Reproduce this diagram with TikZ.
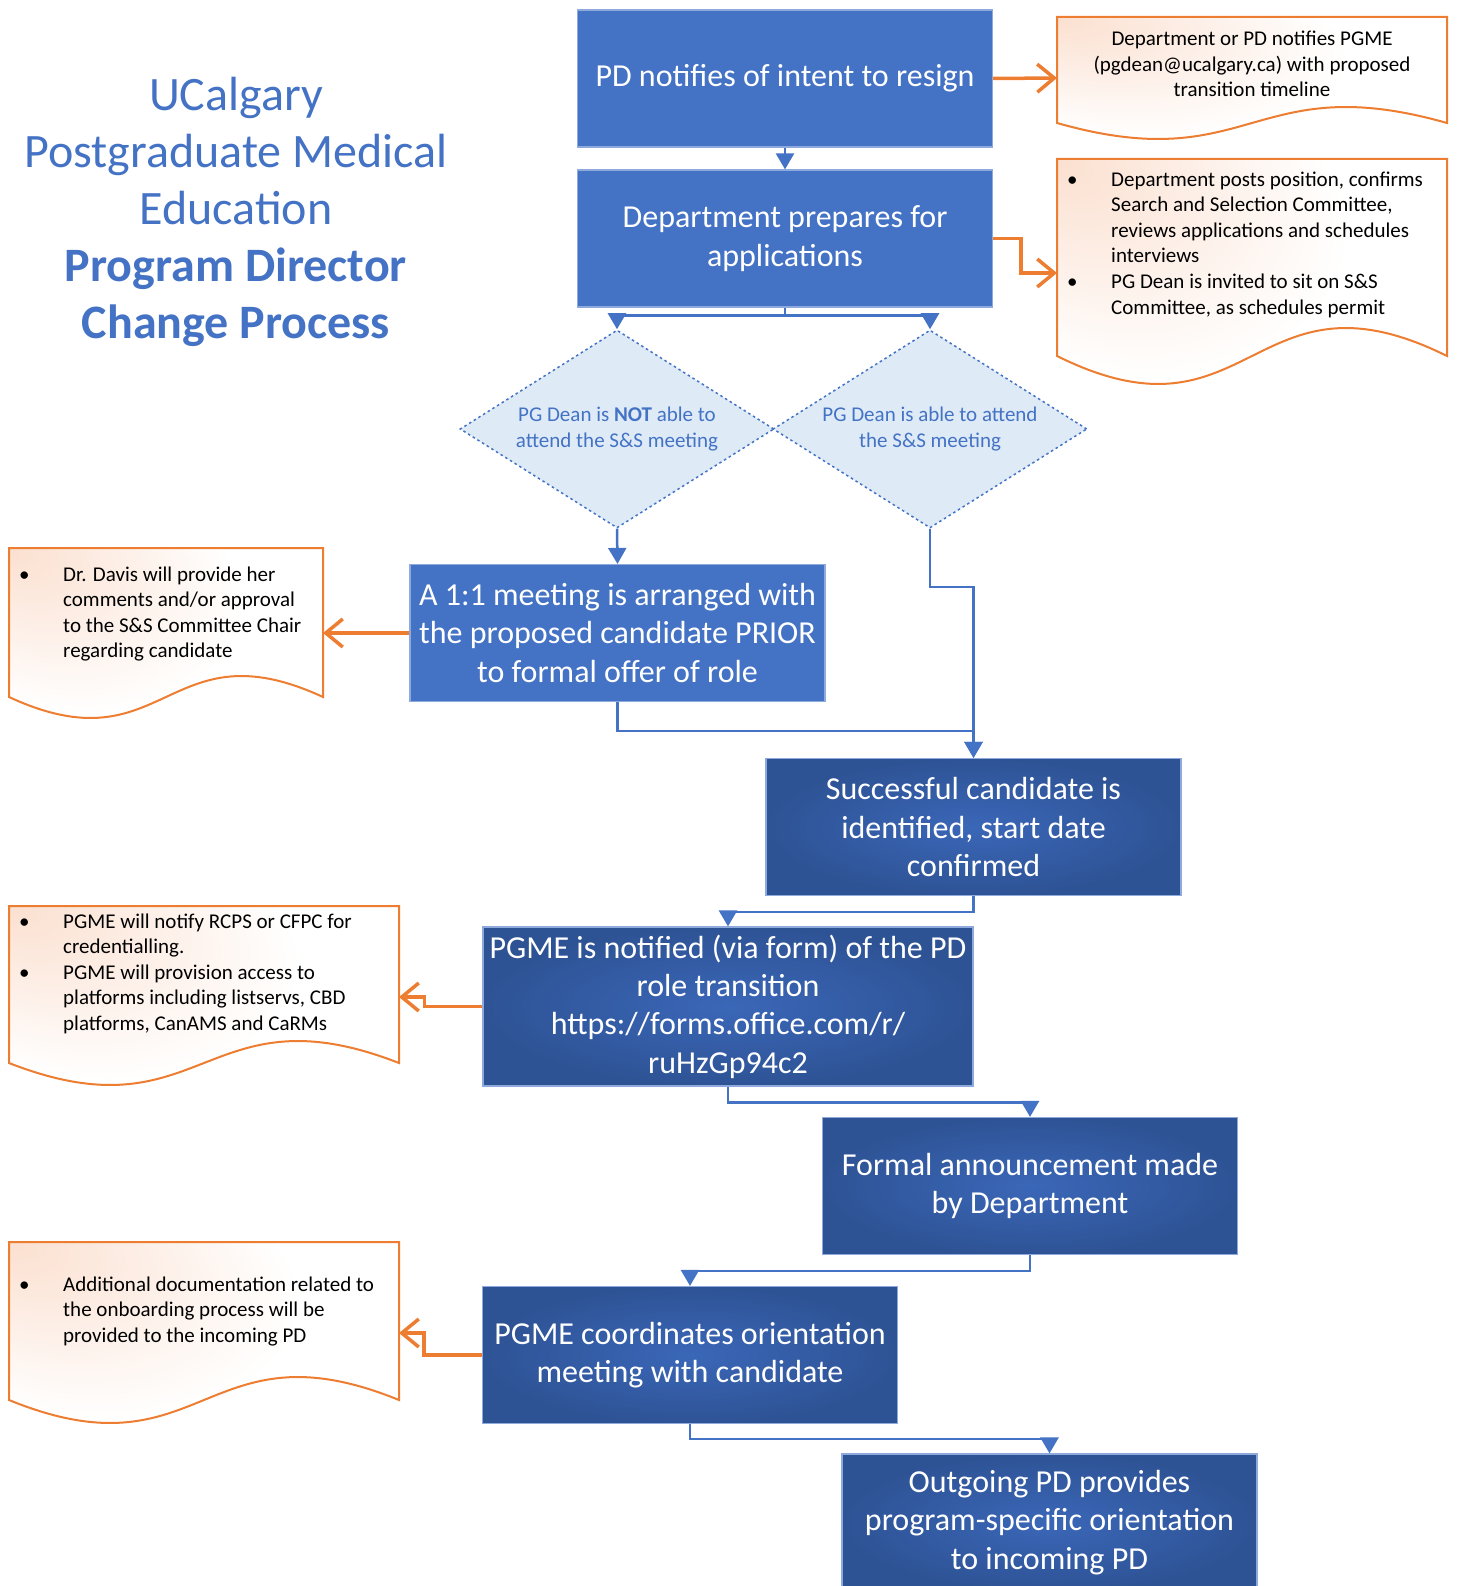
\documentclass[tikz,border=0pt]{standalone}
\usepackage{fontspec}
\setmainfont{Carlito}
\usetikzlibrary{arrows.meta,shapes.geometric}

\definecolor{flowblue}{HTML}{4472C4}
\definecolor{deepblue}{HTML}{2E5395}
\definecolor{midblue}{HTML}{3B67B8}
\definecolor{rimblue}{HTML}{8EA9DB}
\definecolor{paleblue}{HTML}{DEEBF7}
\definecolor{noteorange}{HTML}{ED7D31}
\definecolor{notepink}{HTML}{FBE0D0}

% pink corner glow for the callouts
\pgfdeclareradialshading{notecorner}{\pgfpoint{-25bp}{25bp}}{color(0bp)=(notepink); color(25bp)=(white); color(50bp)=(white)}

% callout with a wavy lower edge: x1, top, x2, side bottom, wave height
\newcommand{\notepath}[5]{%
  \path[callout] (#1,#2) -- (#3,#2) -- (#3,#4)
    .. controls ({(#1+#3)/2},{#4-3.46*#5}) and ({(#1+#3)/2},{#4+3.46*#5}) .. (#1,#4) -- cycle;}

\begin{document}
\begin{tikzpicture}[x=1pt,y=-1pt,
	stepbox/.style={draw=rimblue,line width=1.2pt,fill=flowblue,text=white,minimum width=415pt,minimum height=137pt,inner sep=0pt,align=center,font=\fontsize{32}{38.4}\selectfont},
	darkbox/.style={stepbox,fill=none,inner color=midblue,outer color=deepblue},
	choice/.style={diamond,draw=flowblue,dash pattern=on 2.5pt off 3pt,line width=1.5pt,fill=paleblue,text=flowblue,minimum width=314pt,minimum height=198pt,aspect=1.59,inner sep=0pt,align=center,font=\fontsize{21}{26}\selectfont},
	callout/.style={draw=noteorange,line width=2pt,shade,shading=notecorner},
	notetext/.style={inner sep=0pt,font=\fontsize{21}{25.6}\selectfont},
	flow/.style={flowblue,line width=2.5pt,-{Triangle[length=16pt,width=18pt]}},
	link/.style={noteorange,line width=3.5pt,-{Straight Barb[length=17pt,width=28pt]}}]
		\useasboundingbox (0,0) rectangle (1457,1586);
		% title
		\node[text=flowblue,align=center,font=\fontsize{48}{57}\selectfont] (title) at (236,212)
			{UCalgary\\Postgraduate Medical\\Education\\\textbf{Program Director}\\\textbf{Change Process}};
		% main steps
		\node[stepbox] (resign) at (785,78.5) {PD notifies of intent to resign};
		\node[stepbox] (prepare) at (785,238.5) {Department prepares for\\applications};
		\node[choice] (absent) at (617,429) {PG Dean is \textbf{NOT} able to\\attend the S\&S meeting};
		\node[choice] (present) at (930,429) {PG Dean is able to attend\\the S\&S meeting};
		\node[stepbox] (meet) at (617.5,633) {A 1:1 meeting is arranged with\\the proposed candidate PRIOR\\to formal offer of role};
		\node[darkbox] (chosen) at (973.5,827) {Successful candidate is\\identified, start date\\confirmed};
		\node[darkbox,minimum width=490pt,minimum height=159pt] (notify) at (728,1006.5)
			{PGME is notified (via form) of the PD\\role transition\\https://forms.office.com/r/\\ruHzGp94c2};
		\node[darkbox] (announce) at (1030,1186) {Formal announcement made\\by Department};
		\node[darkbox] (orient) at (690,1355) {PGME coordinates orientation\\meeting with candidate};
		\node[darkbox] (handover) at (1049.5,1522.5) {Outgoing PD provides\\program-specific orientation\\to incoming PD};
		% callouts
		\notepath{1057}{17}{1447}{123}{16}
		\notepath{1057}{159}{1447}{356}{28}
		\notepath{9}{548}{323}{697}{21}
		\notepath{9}{906}{399}{1063}{22}
		\notepath{9}{1242}{399}{1400}{23}
		\node[notetext,align=center] (note1) at (1252,64)
			{Department or PD notifies PGME\\(pgdean@ucalgary.ca) with proposed\\transition timeline};
		\node[notetext,anchor=north west] (note2) at (1067,168)
			{\begin{tabular}{@{}p{44pt}@{}l@{}}
			\textbullet & Department posts position, confirms\\
			 & Search and Selection Committee,\\
			 & reviews applications and schedules\\
			 & interviews\\
			\textbullet & PG Dean is invited to sit on S\&S\\
			 & Committee, as schedules permit
			\end{tabular}};
		\node[notetext,anchor=north west] (note3) at (19,563)
			{\begin{tabular}{@{}p{44pt}@{}l@{}}
			\textbullet & Dr. Davis will provide her\\
			 & comments and/or approval\\
			 & to the S\&S Committee Chair\\
			 & regarding candidate
			\end{tabular}};
		\node[notetext,anchor=north west] (note4) at (19,910)
			{\begin{tabular}{@{}p{44pt}@{}l@{}}
			\textbullet & PGME will notify RCPS or CFPC for\\
			 & credentialling.\\
			\textbullet & PGME will provision access to\\
			 & platforms including listservs, CBD\\
			 & platforms, CanAMS and CaRMs
			\end{tabular}};
		\node[notetext,anchor=north west] (note5) at (19,1273)
			{\begin{tabular}{@{}p{44pt}@{}l@{}}
			\textbullet & Additional documentation related to\\
			 & the onboarding process will be\\
			 & provided to the incoming PD
			\end{tabular}};
		\coordinate (n1) at (1057,78);
		\coordinate (n2) at (1057,273);
		\coordinate (n3) at (323,633);
		\coordinate (n4) at (399,997);
		\coordinate (n5) at (399,1333);
		% blue flow
		\draw[flow] (resign) -- (prepare);
		\coordinate (fork) at ([yshift=-8pt]prepare.south);
		\draw[flowblue,line width=2.5pt] (prepare.south) -- (fork);
		\draw[flow] (fork) -| (absent.north);
		\draw[flow] (fork) -| (present.north);
		\draw[flow] (absent.south) -- (meet.north);
		\draw[flow] (present.south) -- ++(0,58) -| (chosen.north);
		\draw[flow] (meet.south) -- ++(0,29) -| (chosen.north);
		\draw[flow] (chosen.south) -- ++(0,16) -| (notify.north);
		\draw[flow] (notify.south) -- ++(0,16) -| (announce.north);
		\draw[flow] (announce.south) -- ++(0,16) -| (orient.north);
		\draw[flow] (orient.south) -- ++(0,15) -| (handover.north);
		% orange links to the callouts
		\draw[link] (resign.east) -- (n1);
		\draw[link] (prepare.east) -- ++(28,0) |- (n2);
		\draw[link] (meet.west) -- (n3);
		\draw[link] (notify.west) -- ++(-58,0) |- (n4);
		\draw[link] (orient.west) -- ++(-58,0) |- (n5);
	\end{tikzpicture}
\end{document}
